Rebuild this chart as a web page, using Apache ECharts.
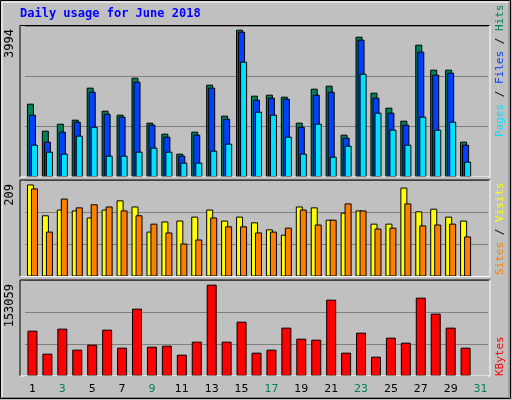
<!DOCTYPE html>
<html><head><meta charset="utf-8">
<script src="https://cdn.jsdelivr.net/npm/echarts@6/dist/echarts.min.js"></script>
<style>html,body{margin:0;padding:0;background:#c0c0c0}#c{width:512px;height:400px}</style>
</head><body><div id="c"></div>
<script>
const days = Array.from({length:31},(_,i)=>String(i+1));
const weekend = ['2','3','9','10','16','17','23','24','30','31'];
const hits  = [1988,1256,1446,1554,2422,1798,1690,2693,1473,1175,633,1229,2503,1663,3994,2205,2232,2178,1473,2395,2476,1148,3804,2286,1880,1527,3587,2910,2910,958];
const files = [1690,958,1229,1500,2313,1717,1636,2584,1419,1093,578,1148,2422,1581,3940,2096,2151,2123,1364,2232,2313,1066,3723,2151,1744,1419,3398,2774,2828,876];
const pages = [876,687,633,1120,1364,578,578,687,795,687,389,389,714,904,3126,1771,1690,1093,633,1446,551,849,2801,1744,1283,876,1636,1283,1500,416];
const visits = [209,139,152,150,134,152,173,159,102,125,127,136,152,127,136,123,107,95,159,157,129,145,150,120,120,202,148,154,136,127];
const sites  = [200,102,177,157,164,159,150,139,120,100,75,84,134,114,114,100,102,111,152,118,129,166,150,109,111,166,116,118,120,91];
const kbytes = [75970,37427,79321,44129,52508,77645,47481,112837,49157,50833,35750,57536,153059,57536,91052,39102,44129,80997,62563,60887,127919,39102,72618,32399,64239,55860,131271,104458,80997,47481];
const maxLabels = ['3994','209','153059'];

const panels=[{t:25.5,b:177},{t:180,b:276.5},{t:280,b:376}];
const L=20,R=490;
const graphic=[];
graphic.push({type:'rect',z:-20,shape:{x:0.5,y:0.5,width:510,height:398},style:{fill:'#c0c0c0',stroke:'#000',lineWidth:1}});
graphic.push({type:'polyline',z:-19,shape:{points:[[2,397],[2,2],[509,2]]},style:{stroke:'#fff',lineWidth:1,fill:null}});
graphic.push({type:'polyline',z:-19,shape:{points:[[2,397.5],[509,397.5],[509,2]]},style:{stroke:'#808080',lineWidth:1,fill:null}});
panels.forEach(p=>{
  graphic.push({type:'polyline',z:10,shape:{points:[[L,p.b],[L,p.t],[R,p.t]]},style:{stroke:'#000',lineWidth:1,fill:null}});
  graphic.push({type:'polyline',z:10,shape:{points:[[L,p.b],[R,p.b],[R,p.t]]},style:{stroke:'#fff',lineWidth:1,fill:null}});
});
graphic.push({type:'text',left:20,top:8,style:{text:'Daily usage for June 2018',fill:'#0000ff',font:'bold 12px "DejaVu Sans Mono"'}});
const lblY=[29,184,284];
maxLabels.forEach((s,i)=>{
  graphic.push({type:'text',x:10,y:lblY[i],rotation:Math.PI/2,style:{text:s,fill:'#000',font:'12px "DejaVu Sans Mono"',align:'right',verticalAlign:'middle'}});
});
function legend(y,parts){
  graphic.push({type:'text',x:500,y:y,rotation:Math.PI/2,style:{
    text:parts.map((p,i)=>'{s'+i+'|'+p[0]+'}').join(''),
    rich:Object.fromEntries(parts.map((p,i)=>['s'+i,{fill:p[1],font:'11px "DejaVu Sans Mono"'}])),
    align:'left',verticalAlign:'middle'}});
}
legend(137,[['Pages','#00e0ff'],[' / ','#000'],['Files','#0040ff'],[' / ','#000'],['Hits','#00805c']]);
legend(275,[['Sites','#ff8000'],[' / ','#000'],['Visits','#ffff00']]);
legend(376,[['KBytes','#ff0000']]);

const axMax=[4094,218,160000];
const grids=panels.map(p=>({left:25,right:512-488,top:p.t+0.5,height:p.b-p.t-0.5}));
const xAxis=panels.map((p,i)=>({type:'category',gridIndex:i,data:days,axisLine:{show:false},axisTick:{show:false},
  axisLabel:i<2?{show:false}:{show:true,margin:8,fontSize:11,fontFamily:'DejaVu Sans',color:(v)=>weekend.includes(v)?'#00805c':'#000'}}));
const yAxis=panels.map((p,i)=>({type:'value',gridIndex:i,min:0,max:axMax[i],interval:axMax[i]/3,axisLabel:{show:false},axisLine:{show:false},axisTick:{show:false},
  splitLine:{show:true,lineStyle:{color:'#808080',width:1}}}));
const bs=(c)=>({color:c,borderColor:'#000',borderWidth:1});
const series=[
  {type:'bar',xAxisIndex:0,yAxisIndex:0,data:hits,barWidth:7,barGap:'-71%',itemStyle:bs('#00805c'),animation:false},
  {type:'bar',xAxisIndex:0,yAxisIndex:0,data:files,barWidth:7,barGap:'-71%',itemStyle:bs('#0040ff'),animation:false},
  {type:'bar',xAxisIndex:0,yAxisIndex:0,data:pages,barWidth:7,barGap:'-71%',itemStyle:bs('#00e0ff'),animation:false},
  {type:'bar',xAxisIndex:1,yAxisIndex:1,data:visits,barWidth:7,barGap:'-43%',itemStyle:bs('#ffff00'),animation:false},
  {type:'bar',xAxisIndex:1,yAxisIndex:1,data:sites,barWidth:7,barGap:'-43%',itemStyle:bs('#ff8000'),animation:false},
  {type:'bar',xAxisIndex:2,yAxisIndex:2,data:kbytes,barWidth:10,itemStyle:bs('#ff0000'),animation:false}
];
const chart=echarts.init(document.getElementById('c'));
chart.setOption({backgroundColor:'#c0c0c0',animation:false,grid:grids,xAxis,yAxis,series,graphic});
</script></body></html>
